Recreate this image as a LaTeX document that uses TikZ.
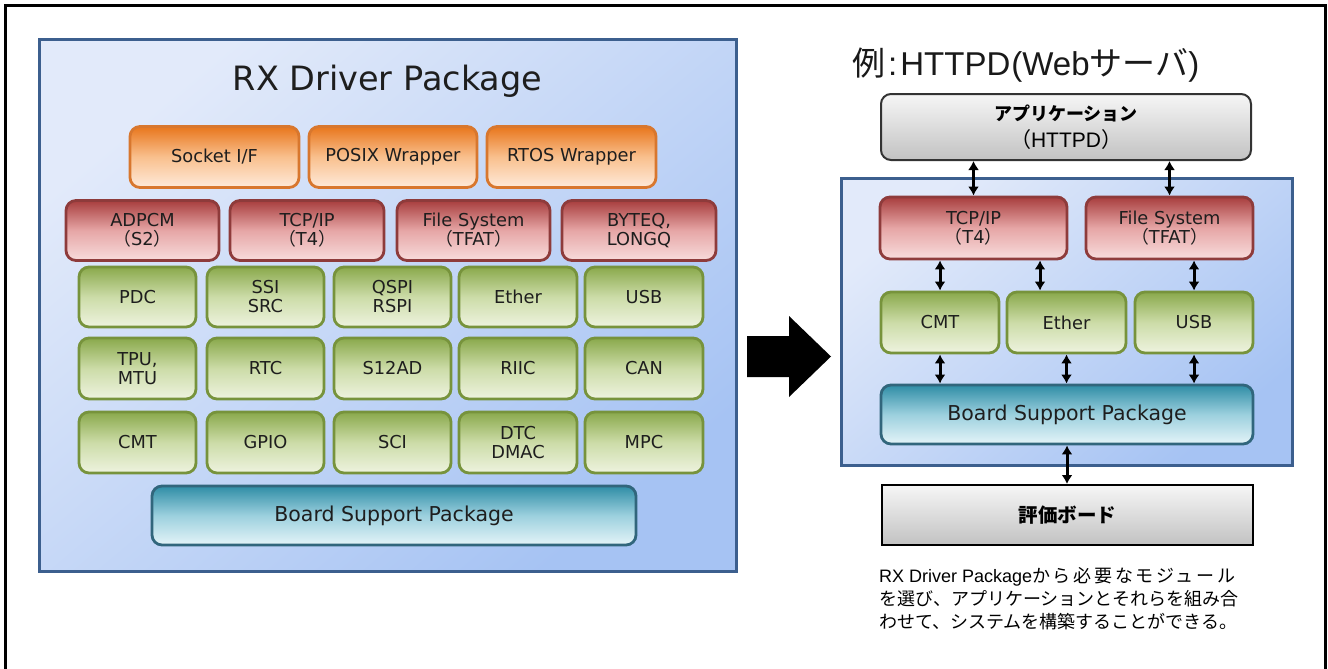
\documentclass[tikz,border=0pt]{standalone}
\usepackage{fontspec}
\setmainfont{DejaVu Sans}
\newfontfamily\cjk{Noto Sans CJK JP}
\newfontfamily\lib{Liberation Sans}
\usetikzlibrary{arrows.meta}
\definecolor{orT}{HTML}{E8761C}
\definecolor{orM}{HTML}{F9C08E}
\definecolor{orB}{HTML}{FEEADA}
\definecolor{orD}{HTML}{D8772E}
\definecolor{rdT}{HTML}{A83E3E}
\definecolor{rdM}{HTML}{E6A6A6}
\definecolor{rdB}{HTML}{F8DCDC}
\definecolor{rdD}{HTML}{8E3B3B}
\definecolor{gnT}{HTML}{8AA94C}
\definecolor{gnM}{HTML}{CCDCA8}
\definecolor{gnB}{HTML}{EEF3DF}
\definecolor{gnD}{HTML}{77933C}
\definecolor{blT}{HTML}{2F8DA6}
\definecolor{blM}{HTML}{9CD0DE}
\definecolor{blB}{HTML}{E4F4F8}
\definecolor{blD}{HTML}{31667C}
\definecolor{pnD}{HTML}{3C5F8E}
\definecolor{pnL}{HTML}{E2EAFA}
\definecolor{pnR}{HTML}{A6C3F3}
\definecolor{gyT}{HTML}{F6F6F6}
\definecolor{gyB}{HTML}{C2C2C2}
\definecolor{txt}{HTML}{1E1E1E}
\tikzset{
  box/.style={rounded corners=10, line width=2.8, align=center, inner sep=0pt,
    font=\fontsize{17.8}{19}\selectfont, text=txt},
  obox/.style={box, draw=orD, top color=orT, bottom color=orB, middle color=orM},
  rbox/.style={box, draw=rdD, top color=rdT, bottom color=rdB, middle color=rdM},
  gbox/.style={box, draw=gnD, top color=gnT, bottom color=gnB, middle color=gnM},
  bbox/.style={box, draw=blD, top color=blT, bottom color=blB, middle color=blM,
    font=\fontsize{20.5}{22}\selectfont},
  panel/.style={draw=pnD, line width=3, top color=pnL, bottom color=pnR, shading angle=40, inner sep=0pt},
  gbar/.style={draw=black!80, line width=2, top color=gyT, bottom color=gyB, align=center, inner sep=0pt, text=black},
  dbl/.style={line width=3, {Latex[length=9pt,width=11pt]}-{Latex[length=9pt,width=11pt]}},
}
\newcommand{\fp}[1]{{\cjk #1}}
\begin{document}
\begin{tikzpicture}[x=1pt,y=-1pt]
\useasboundingbox (0,0) rectangle (1328,669);
\fill[white] (0,0) rectangle (1328,669);
\draw[line width=3] (5,669) -- (5,6) -- (1325,6) -- (1325,669);

% left panel
\node[panel, minimum width=697, minimum height=531] (lp) at (387.5,305.5) {};
\node[anchor=base, font=\fontsize{33.5}{36}\selectfont, text=txt] (lt) at (387.5,90) {RX Driver Package};

\node[obox, minimum width=169, minimum height=61] (sock) at (214.5,157) {Socket I/F};
\node[obox, minimum width=168, minimum height=61] (posix) at (393,157) {POSIX Wrapper};
\node[obox, minimum width=169, minimum height=61] (rtos) at (571.5,157) {RTOS Wrapper};

\node[rbox, minimum width=153, minimum height=60] (adpcm) at (142.5,230.5) {ADPCM\\\fp{（}S2\fp{）}};
\node[rbox, minimum width=154, minimum height=60] (ltcp) at (307,230.5) {TCP/IP\\\fp{（}T4\fp{）}};
\node[rbox, minimum width=153, minimum height=60] (lfs) at (473.5,230.5) {File System\\\fp{（}TFAT\fp{）}};
\node[rbox, minimum width=154, minimum height=60] (byteq) at (639,230.5) {BYTEQ,\\LONGQ};

\node[gbox, minimum width=117, minimum height=60] (pdc) at (137.5,297) {PDC};
\node[gbox, minimum width=117, minimum height=60] (ssi) at (265.5,297) {SSI\\SRC};
\node[gbox, minimum width=117, minimum height=60] (qspi) at (392.5,297) {QSPI\\RSPI};
\node[gbox, minimum width=118, minimum height=60] (lether) at (518,297) {Ether};
\node[gbox, minimum width=118, minimum height=60] (lusb) at (644,297) {USB};

\node[gbox, minimum width=117, minimum height=61] (tpu) at (137.5,368.5) {TPU,\\MTU};
\node[gbox, minimum width=117, minimum height=61] (rtc) at (265.5,368.5) {RTC};
\node[gbox, minimum width=117, minimum height=61] (s12ad) at (392.5,368.5) {S12AD};
\node[gbox, minimum width=118, minimum height=61] (riic) at (518,368.5) {RIIC};
\node[gbox, minimum width=118, minimum height=61] (can) at (644,368.5) {CAN};

\node[gbox, minimum width=117, minimum height=61] (lcmt) at (137.5,442.5) {CMT};
\node[gbox, minimum width=117, minimum height=61] (gpio) at (265.5,442.5) {GPIO};
\node[gbox, minimum width=117, minimum height=61] (sci) at (392.5,442.5) {SCI};
\node[gbox, minimum width=118, minimum height=61] (dtc) at (518,442.5) {DTC\\DMAC};
\node[gbox, minimum width=118, minimum height=61] (mpc) at (644,442.5) {MPC};

\node[bbox, minimum width=484, minimum height=59] (lbsp) at (394,515.5) {Board Support Package};

% big arrow
\fill (747,336) -- (789,336) -- (789,316) -- (831,356.5) -- (789,397) -- (789,377) -- (747,377) -- cycle;

% right side
\node[anchor=base west, text=black!90, inner sep=0pt] (rt) at (852,75)
  {\fontsize{33}{36}\selectfont\cjk 例\lib\kern3pt:\kern3pt HTTPD\kern1pt(Web\cjk サーバ\lib )};

\node[gbar, rounded corners=10, minimum width=370, minimum height=66] (app) at (1066,127)
  {\fontsize{18}{20}\selectfont\cjk\bfseries アプリケーション\\[7pt]\fontsize{21}{22}\selectfont\cjk （\lib HTTPD\cjk ）};

\node[panel, minimum width=451, minimum height=287] (rp) at (1066.5,321.5) {};

\node[rbox, minimum width=187, minimum height=62] (tcp) at (973.5,228) {TCP/IP\\\fp{（}T4\fp{）}};
\node[rbox, minimum width=167, minimum height=62] (fs) at (1169.5,228) {File System\\\fp{（}TFAT\fp{）}};

\node[gbox, minimum width=118, minimum height=61] (cmt) at (940,322.5) {CMT};
\node[gbox, minimum width=119, minimum height=61] (ether) at (1066.5,322.5) {Ether};
\node[gbox, minimum width=118, minimum height=61] (usb) at (1194,322.5) {USB};

\node[bbox, minimum width=372, minimum height=59] (bsp) at (1067,414.5) {Board Support Package};

\node[gbar, draw=black, minimum width=371, minimum height=60] (board) at (1067.5,515)
  {\fontsize{19.5}{22}\selectfont\cjk\bfseries 評価ボード};

\coordinate (te) at (1040,0);
\coordinate (bb) at (1067,0);
\draw[dbl] (app.south -| tcp) -- (tcp.north);
\draw[dbl] (app.south -| fs) -- (fs.north);
\draw[dbl] (tcp.south -| cmt) -- (cmt.north);
\draw[dbl] (tcp.south -| te) -- (ether.north -| te);
\draw[dbl] (fs.south -| usb) -- (usb.north);
\draw[dbl] (cmt.south) -- (bsp.north -| cmt);
\draw[dbl] (ether.south) -- (bsp.north -| ether);
\draw[dbl] (usb.south) -- (bsp.north -| usb);
\draw[dbl] (bsp.south -| bb) -- (board.north -| bb);

\node[anchor=north west, align=left, inner sep=0pt, text=black,
  font=\fontsize{18}{23}\selectfont\cjk] (note) at (879,567)
  {{\lib RX Driver Package}\addfontfeature{LetterSpace=15}から必要なモジュール\\
   を選び、アプリケーションとそれらを組み合\\
   わせて、システムを構築することができる。};
\end{tikzpicture}
\end{document}
